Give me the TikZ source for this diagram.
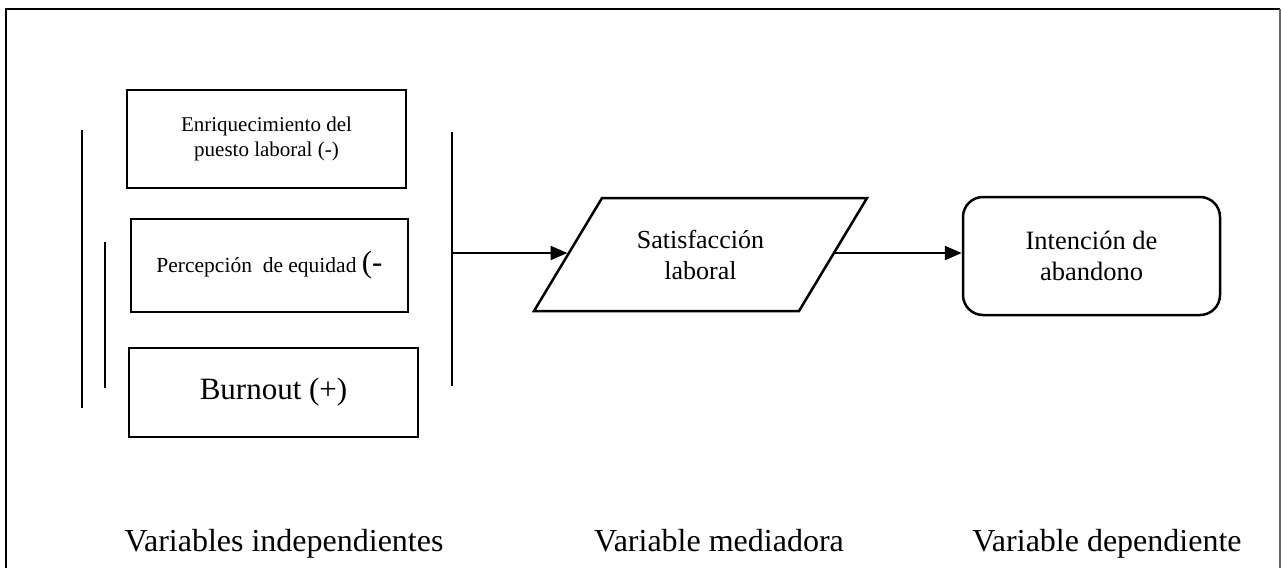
\documentclass[tikz,border=0pt]{standalone}
\usepackage{fontspec}
\setmainfont{Liberation Serif}
\usepackage{tikz}
\usetikzlibrary{arrows.meta}
\tikzstyle{varbox}=[rectangle, draw, line width=2.5pt
,align=center
,inner sep=0pt
]
\tikzstyle{edge} = [draw, line width=2.2pt, -{Triangle[length=17pt,width=14pt]}]
\tikzstyle{bar} = [draw, line width=1.3pt]
\tikzstyle{caption} = [anchor=base, inner sep=0pt, font=\fontsize{32}{36}\selectfont]

\begin{document}
\begin{tikzpicture}[x=1pt,y=-1pt]
    \useasboundingbox (0,0) rectangle (1281,568);
    % Frame of the figure (open at the bottom)
    \draw[line width=2.5pt] (6,568) -- (6,9) -- (1280,9);
    \draw[line width=1.2pt, black!60] (1280,9) -- (1280,568);
    % First we draw the independent variables
    \node[varbox, minimum width=279pt, minimum height=98pt, font=\fontsize{21}{25}\selectfont]
        (enr) at (266.5,139) {Enriquecimiento del\\puesto laboral (-)};
    \node[varbox, minimum width=277pt, minimum height=93pt, font=\fontsize{21.5}{25}\selectfont]
        (per) at (269.5,265.5) {Percepción \ de equidad {\fontsize{31}{31}\selectfont (-}};
    \node[varbox, minimum width=289pt, minimum height=89pt, font=\fontsize{31}{36}\selectfont]
        (bur) at (273.5,392.5) {Burnout (+)};
    % Side bars
    \foreach \x/\ya/\yb in {82/130/408, 105/242/388, 452/132/386}
        \path[bar] (\x,\ya) -- (\x,\yb);
    \coordinate (jn) at (452,253);
    % Mediator: a parallelogram drawn round its text
    \node[align=center, font=\fontsize{26}{31}\selectfont] (sat) at (700.5,254.5) {Satisfacción\\laboral};
    \draw[line width=2.5pt, line join=miter]
        ([shift={(-98.5,-56.5)}]sat.center) -- ([shift={(166.5,-56.5)}]sat.center)
        -- ([shift={(98.5,56.5)}]sat.center) -- ([shift={(-166.5,56.5)}]sat.center) -- cycle;
    \coordinate (satin) at ([shift={(-133,-1.5)}]sat.center);
    \coordinate (satout) at ([shift={(134,-1.5)}]sat.center);
    % Dependent variable
    \node[rectangle, rounded corners=20pt, draw, line width=2.5pt, minimum width=257pt,
        minimum height=118pt, align=center, font=\fontsize{26.5}{31}\selectfont]
        (int) at (1091.5,256) {Intención de\\abandono};
    % Connect the blocks with arrows
    \path[edge] (jn) -- (satin);
    \path[edge] (satout) -- (satout -| int.west);
    % Captions
    \foreach \x/\name/\txt in {284/ind/Variables independientes, 719/med/Variable mediadora, 1107/dep/Variable dependiente}
        \node[caption] (\name) at (\x,551) {\txt};
\end{tikzpicture}
\end{document}
